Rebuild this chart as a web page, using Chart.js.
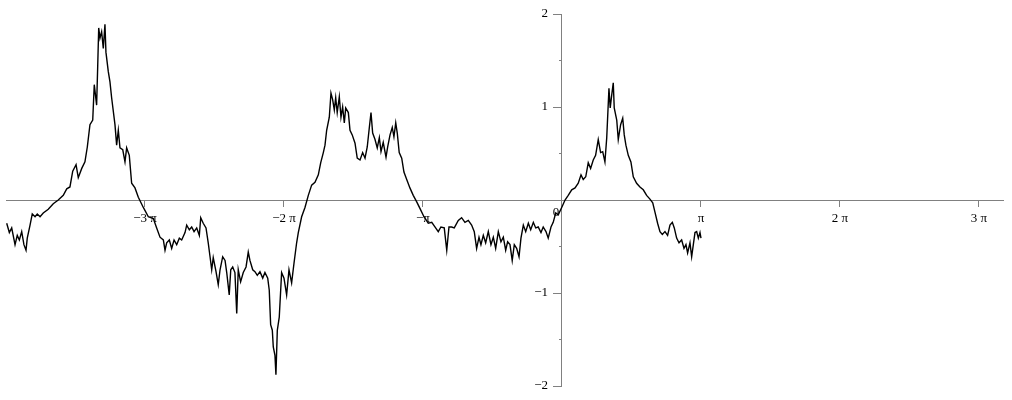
<!DOCTYPE html>
<html>
<head>
<meta charset="utf-8">
<script src="https://cdn.jsdelivr.net/npm/chart.js@4/dist/chart.umd.min.js"></script>
<style>
  html, body { margin: 0; padding: 0; background: #fff; }
  canvas { display: block; }
</style>
</head>
<body>
<canvas id="plot" width="1012" height="400"></canvas>
<script>
// x values are given in multiples of pi
const lobe1X = [-3.995,-3.976,-3.959,-3.935,-3.919,-3.904,-3.887,-3.871,-3.856,-3.847,
  -3.827,-3.811,-3.791,-3.775,-3.755,-3.732,-3.696,-3.660,-3.624,-3.588,
  -3.563,-3.540,-3.520,-3.496,-3.480,-3.455,-3.432,-3.415,-3.396,-3.376,
  -3.365,-3.348,-3.340,-3.333,-3.324,-3.312,-3.300,-3.288,-3.281,-3.264,
  -3.252,-3.240,-3.216,-3.204,-3.192,-3.180,-3.160,-3.144,-3.132,-3.113,
  -3.096,-3.072,-3.048,-3.012,-2.976,-2.940,-2.916];
const lobe1Y = [-0.25,-0.35,-0.30,-0.48,-0.38,-0.43,-0.34,-0.48,-0.54,-0.41,
  -0.27,-0.15,-0.18,-0.15,-0.18,-0.14,-0.10,-0.04,0.00,0.05,
  0.12,0.14,0.31,0.38,0.24,0.34,0.41,0.57,0.81,0.86,
  1.24,1.02,1.45,1.85,1.74,1.81,1.63,1.89,1.59,1.38,
  1.27,1.10,0.81,0.59,0.75,0.56,0.54,0.41,0.56,0.48,
  0.18,0.13,0.03,-0.08,-0.18,-0.20,-0.30];

const trough1X = [-2.892,-2.868,-2.856,-2.844,-2.825,-2.808,-2.791,-2.772,-2.753,-2.736,
  -2.712,-2.700,-2.681,-2.664,-2.647,-2.628,-2.609,-2.599,-2.581,-2.561,
  -2.545,-2.532,-2.520,-2.509,-2.489,-2.473,-2.460,-2.441,-2.424,-2.412,
  -2.394,-2.383,-2.369,-2.353,-2.340,-2.329,-2.312,-2.293,-2.273,-2.257,
  -2.245,-2.225,-2.209,-2.192,-2.173,-2.153,-2.137,-2.117,-2.106,-2.096,
  -2.084,-2.077,-2.065,-2.058,-2.048,-2.034,-2.017,-2.000,-1.981,-1.964,
  -1.945,-1.928,-1.909,-1.897];
const trough1Y = [-0.40,-0.43,-0.54,-0.46,-0.43,-0.52,-0.43,-0.48,-0.41,-0.43,
  -0.35,-0.27,-0.32,-0.29,-0.34,-0.30,-0.38,-0.19,-0.25,-0.30,
  -0.46,-0.61,-0.75,-0.62,-0.77,-0.91,-0.75,-0.61,-0.65,-0.78,
  -1.02,-0.75,-0.72,-0.78,-1.22,-0.75,-0.88,-0.78,-0.72,-0.56,
  -0.65,-0.75,-0.77,-0.81,-0.77,-0.84,-0.78,-0.84,-0.97,-1.34,
  -1.40,-1.58,-1.67,-1.88,-1.40,-1.26,-0.78,-0.84,-1.02,-0.75,
  -0.89,-0.68,-0.46,-0.35];

const lobe2X = [-1.873,-1.849,-1.825,-1.801,-1.777,-1.753,-1.736,-1.717,-1.705,-1.693,
  -1.674,-1.662,-1.650,-1.638,-1.628,-1.617,-1.602,-1.590,-1.578,-1.566,
  -1.556,-1.537,-1.525,-1.509,-1.489,-1.473,-1.453,-1.434,-1.417,-1.401,
  -1.386,-1.374,-1.362,-1.345,-1.329,-1.314,-1.302,-1.286,-1.266,-1.254,
  -1.237,-1.221,-1.209,-1.196,-1.185,-1.171,-1.153,-1.137,-1.117,-1.094,
  -1.070,-1.045,-1.022,-0.993];
const lobe2Y = [-0.18,-0.08,0.05,0.16,0.19,0.27,0.40,0.51,0.59,0.75,
  0.89,1.15,1.08,0.97,1.10,0.94,1.11,0.89,1.00,0.83,
  0.99,0.94,0.75,0.70,0.61,0.45,0.43,0.51,0.45,0.57,
  0.78,0.94,0.72,0.65,0.56,0.67,0.52,0.62,0.46,0.57,
  0.70,0.78,0.68,0.83,0.72,0.51,0.45,0.30,0.22,0.13,
  0.05,-0.02,-0.09,-0.18];

const trough2X = [-0.962,-0.937,-0.914,-0.890,-0.871,-0.847,-0.829,-0.813,-0.794,-0.775,
  -0.746,-0.722,-0.698,-0.674,-0.650,-0.631,-0.614,-0.597,-0.583,-0.566,
  -0.549,-0.530,-0.511,-0.494,-0.477,-0.458,-0.439,-0.422,-0.405,-0.391,
  -0.374,-0.358,-0.343,-0.326,-0.309,-0.295,-0.278,-0.261,-0.242,-0.225,
  -0.206,-0.189,-0.171,-0.151,-0.135,-0.115,-0.099,-0.079,-0.063,-0.045,
  -0.027,-0.002,0.022];
const trough2Y = [-0.25,-0.24,-0.29,-0.34,-0.29,-0.30,-0.54,-0.29,-0.29,-0.30,
  -0.22,-0.19,-0.24,-0.22,-0.27,-0.34,-0.52,-0.40,-0.48,-0.38,
  -0.46,-0.34,-0.48,-0.40,-0.52,-0.34,-0.45,-0.40,-0.54,-0.45,
  -0.48,-0.65,-0.48,-0.52,-0.61,-0.41,-0.27,-0.34,-0.25,-0.32,
  -0.24,-0.30,-0.29,-0.35,-0.29,-0.34,-0.41,-0.29,-0.24,-0.14,
  -0.16,-0.08,0.00];

const lobe3X = [0.045,0.070,0.094,0.117,0.137,0.153,0.171,0.189,0.206,0.225,
  0.242,0.261,0.278,0.293,0.309,0.322,0.338,0.347,0.358,0.369,
  0.376,0.394,0.405,0.422,0.437,0.448,0.460,0.477,0.496,0.513,
  0.537,0.561,0.585,0.609,0.633,0.653,0.669,0.688,0.705,0.722,
  0.741,0.760,0.777,0.794,0.808,0.825,0.842,0.861,0.878,0.892,
  0.904,0.921,0.933,0.945,0.957,0.969,0.981,0.993,1.000];
const lobe3Y = [0.05,0.11,0.13,0.18,0.27,0.22,0.25,0.40,0.34,0.43,
  0.48,0.65,0.51,0.52,0.41,0.67,1.20,0.99,1.13,1.26,
  0.99,0.86,0.65,0.81,0.88,0.70,0.59,0.48,0.41,0.25,
  0.18,0.14,0.11,0.05,0.01,-0.03,-0.13,-0.25,-0.34,-0.37,
  -0.34,-0.38,-0.27,-0.24,-0.30,-0.41,-0.46,-0.43,-0.52,-0.48,
  -0.57,-0.46,-0.61,-0.48,-0.35,-0.34,-0.41,-0.35,-0.41];

const xTickValues = [-3, -2, -1, 0, 1, 2, 3];
const yMajorTicks = [-2, -1, 1, 2];
const yMinorTicks = [-1.5, -0.5, 0.5, 1.5];
const xRange = [-4, 3.173];
const yRange = [-2, 2];

const xs = lobe1X.concat(trough1X, lobe2X, trough2X, lobe3X);
const ys = lobe1Y.concat(trough1Y, lobe2Y, trough2Y, lobe3Y);
const points = xs.map((x, i) => ({ x: x, y: ys[i] }));

const axisGrey = '#808080';
const fontFamily = '"Liberation Serif", "Times New Roman", serif';
const labelFont = { family: fontFamily, size: 13 };

function piLabel(v) {
  if (v === 0) return '';
  if (v === 1) return 'π';
  if (v === -1) return '−π';
  return (v < 0 ? '−' : '') + Math.abs(v) + ' π';
}

// Maple puts the origin "0" just left of the y axis, under the x axis
const originLabel = {
  id: 'originLabel',
  afterDraw(chart) {
    const ctx = chart.ctx;
    const px = chart.scales.x.getPixelForValue(0);
    const py = chart.scales.y.getPixelForValue(0);
    ctx.save();
    ctx.font = '13px ' + fontFamily;
    ctx.fillStyle = '#000';
    ctx.textAlign = 'center';
    ctx.textBaseline = 'middle';
    ctx.fillText('0', px - 6, py + 13);
    ctx.restore();
  }
};

new Chart(document.getElementById('plot'), {
  type: 'line',
  data: {
    datasets: [{
      data: points,
      borderColor: '#000',
      borderWidth: 1.4,
      pointRadius: 0,
      tension: 0,
      fill: false
    }]
  },
  options: {
    responsive: false,
    animation: false,
    devicePixelRatio: 1,
    layout: { padding: { left: 6, right: 9, top: 14, bottom: 14 } },
    plugins: { legend: { display: false }, tooltip: { enabled: false } },
    scales: {
      x: {
        type: 'linear',
        min: xRange[0], max: xRange[1],
        position: { y: 0 },
        border: { color: axisGrey, width: 1 },
        grid: { drawOnChartArea: false, tickLength: 6, color: axisGrey },
        afterBuildTicks: s => { s.ticks = xTickValues.map(v => ({ value: v })); },
        ticks: { color: '#000', font: labelFont, padding: 5, autoSkip: false, maxRotation: 0, callback: piLabel }
      },
      y: {
        type: 'linear',
        min: yRange[0], max: yRange[1],
        position: { x: 0 },
        border: { color: axisGrey, width: 1 },
        grid: { drawOnChartArea: false, tickLength: 8, color: axisGrey },
        afterBuildTicks: s => { s.ticks = yMajorTicks.map(v => ({ value: v })); },
        ticks: { display: false }
      },
      yMinor: {
        type: 'linear',
        min: yRange[0], max: yRange[1],
        position: { x: 0 },
        border: { display: false },
        grid: { drawOnChartArea: false, tickLength: 3, color: axisGrey },
        afterBuildTicks: s => { s.ticks = yMinorTicks.map(v => ({ value: v })); },
        ticks: { display: false }
      },
      // labels for the y ticks, set a little left of the axis line
      yLabels: {
        type: 'linear',
        min: yRange[0], max: yRange[1],
        position: { x: -0.1 },
        border: { display: false },
        grid: { display: false },
        afterBuildTicks: s => { s.ticks = yMajorTicks.map(v => ({ value: v })); },
        ticks: { color: '#000', font: labelFont, callback: v => (v < 0 ? '−' + (-v) : '' + v) }
      }
    }
  },
  plugins: [originLabel]
});
</script>
</body>
</html>
